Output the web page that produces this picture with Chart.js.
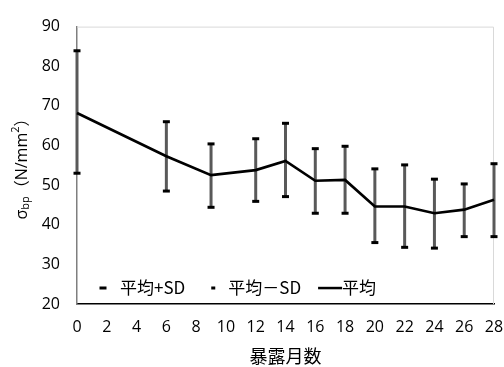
<!DOCTYPE html>
<html>
<head>
<meta charset="utf-8">
<script src="https://cdn.jsdelivr.net/npm/chart.js@4/dist/chart.umd.min.js"></script>
<style>
  body { margin: 0; background: #fff; }
  #wrap { width: 504px; height: 367px; }
</style>
</head>
<body>
<div id="wrap"><canvas id="diagram-canvas"></canvas></div>
<script>
// exposure months and bending strength (mean, mean+SD, mean-SD)
const months = [0, 6, 9, 12, 14, 16, 18, 20, 22, 24, 26, 28];
const meanVals = [68.2, 57.3, 52.5, 53.8, 56.1, 51.1, 51.3, 44.6, 44.6, 42.9, 43.8, 46.3];
const plusSD = [83.9, 66.0, 60.4, 61.7, 65.6, 59.2, 59.8, 54.1, 55.1, 51.5, 50.3, 55.4];
const minusSD = [53.0, 48.5, 44.4, 45.9, 47.1, 42.9, 42.9, 35.5, 34.3, 34.1, 37.0, 37.0];
const seriesNames = ['平均+SD', '平均－SD', '平均'];
const xTitle = '暴露月数';

const FONT = '"Open Sans", "Noto Sans CJK JP", sans-serif';
const CJK = '"Noto Sans CJK JP", "Open Sans", sans-serif';

const toPts = vals => months.map((m, i) => ({x: m, y: vals[i]}));

// vertical error bars from +SD to -SD, plus light frame on top/right
const errorBars = {
  id: 'errorBars',
  beforeDatasetsDraw(chart) {
    const {ctx, chartArea: a} = chart;
    ctx.save();
    ctx.strokeStyle = '#d9d9d9';
    ctx.lineWidth = 1;
    ctx.beginPath();
    ctx.moveTo(a.left, a.top + 0.5);
    ctx.lineTo(a.right - 0.5, a.top + 0.5);
    ctx.lineTo(a.right - 0.5, a.bottom);
    ctx.stroke();
    const up = chart.getDatasetMeta(0).data;
    const lo = chart.getDatasetMeta(1).data;
    ctx.strokeStyle = '#595959';
    ctx.lineWidth = 3;
    up.forEach((p, i) => {
      ctx.beginPath();
      ctx.moveTo(p.x, p.y);
      ctx.lineTo(lo[i].x, lo[i].y);
      ctx.stroke();
    });
    ctx.restore();
  }
};

// y title with subscript/superscript, and legend inside plot area
const extras = {
  id: 'extras',
  afterDraw(chart) {
    const {ctx, chartArea: a} = chart;
    ctx.save();
    // y axis title
    const parts = [
      {t: 'σ', s: 16, dy: 0},
      {t: 'bp', s: 11, dy: 4},
      {t: '（N/mm', s: 16, dy: 0},
      {t: '2', s: 11, dy: -6},
      {t: '）', s: 16, dy: 0}
    ];
    let total = 0;
    parts.forEach(p => { ctx.font = p.s + 'px ' + FONT; p.w = ctx.measureText(p.t).width; total += p.w; });
    ctx.translate(22, 165);
    ctx.rotate(-Math.PI / 2);
    ctx.fillStyle = '#000';
    ctx.textBaseline = 'middle';
    let cx = -total / 2;
    parts.forEach(p => {
      ctx.font = p.s + 'px ' + FONT;
      ctx.fillText(p.t, cx, p.dy);
      cx += p.w;
    });
    ctx.restore();

    // legend
    ctx.save();
    ctx.font = '17px ' + CJK;
    ctx.textBaseline = 'middle';
    ctx.fillStyle = '#000';
    const ly = a.bottom - 16;
    let x = a.left + 26;
    const ds = chart.data.datasets;
    // +SD
    ctx.fillRect(x - 3.5, ly - 1.5, 7, 3);
    ctx.fillText(ds[0].label, x + 17, ly);
    x = x + 17 + ctx.measureText(ds[0].label).width + 28;
    // -SD
    ctx.fillRect(x - 2, ly - 1.5, 4, 3);
    ctx.fillText(ds[1].label, x + 15, ly);
    x = x + 15 + ctx.measureText(ds[1].label).width + 17;
    // mean
    ctx.fillRect(x, ly - 1.2, 24, 2.5);
    ctx.fillText(ds[2].label, x + 24, ly);
    ctx.restore();
  }
};

const capStyle = {
  showLine: false,
  pointStyle: 'line',
  pointRadius: 3.5,
  pointHoverRadius: 3.5,
  pointBorderWidth: 3,
  borderColor: '#000',
  backgroundColor: '#000',
  clip: false
};

const data = {
  datasets: [
    Object.assign({label: seriesNames[0], data: toPts(plusSD)}, capStyle),
    Object.assign({label: seriesNames[1], data: toPts(minusSD)}, capStyle),
    {
      label: seriesNames[2],
      data: toPts(meanVals),
      borderColor: '#000',
      borderWidth: 2.7,
      pointRadius: 0,
      tension: 0,
      clip: false
    }
  ]
};

const config = {
  type: 'line',
  data: data,
  options: {
    responsive: true,
    maintainAspectRatio: false,
    animation: false,
    layout: {padding: {top: 16, right: 0, left: 0, bottom: 0}},
    plugins: {
      legend: {display: false},
      tooltip: {enabled: false}
    },
    scales: {
      x: {
        type: 'linear',
        min: 0, max: 28,
        afterFit: s => { s.height = 63; s.paddingRight = 10; s.paddingLeft = 0; },
        ticks: {stepSize: 2, color: '#000', padding: 14, font: {family: FONT, size: 16}},
        grid: {display: false, drawTicks: false},
        border: {color: '#000', width: 1.5},
        title: {display: true, text: xTitle, color: '#000', padding: {top: 4, bottom: 0}, font: {family: CJK, size: 18}}
      },
      y: {
        min: 20, max: 90,
        afterFit: s => { s.width = 77; },
        ticks: {stepSize: 10, color: '#000', padding: 17, font: {family: FONT, size: 16}},
        grid: {display: false, drawTicks: false},
        border: {color: '#7f7f7f', width: 1.5}
      }
    }
  },
  plugins: [errorBars, extras]
};

const chart = new Chart(document.getElementById('diagram-canvas').getContext('2d'), config);
</script>
</body>
</html>
